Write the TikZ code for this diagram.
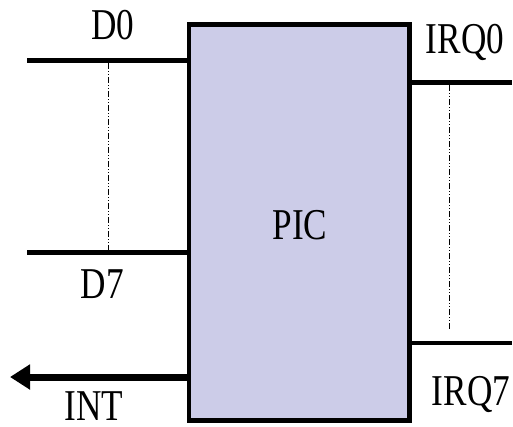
\documentclass[tikz,border=0pt]{standalone}
\usepackage{fontspec}
\setmainfont{Liberation Serif}
\usetikzlibrary{arrows.meta}
\definecolor{picfill}{RGB}{204,204,232}
\begin{document}
\begin{tikzpicture}[x=1pt,y=-1pt,
  lbl/.style={inner sep=0pt,anchor=base,font=\fontsize{44}{44}\selectfont},
  bus/.style={line width=4.5pt},
  dd/.style={line width=1pt,dash pattern=on 6pt off 2pt on 1pt off 2pt on 1pt off 2pt}]
\useasboundingbox (0,0) rectangle (513,426);
\node[draw,line width=4.5pt,fill=picfill,minimum width=220.5pt,minimum height=396pt,inner sep=0pt] (picbox) at (299.25,222.5) {};
\node[lbl] (pictxt) at (300,239) {\scalebox{0.8}[1]{PIC}};
% left data bus
\coordinate (d0l) at (27,60.5);
\coordinate (d0r) at (picbox.west |- d0l);
\coordinate (d7l) at (27,252.5);
\coordinate (d7r) at (picbox.west |- d7l);
\draw[bus] (d0l) -- (d0r);
\draw[bus] (d7l) -- (d7r);
\coordinate (dt) at (108,63);
\coordinate (db) at (108,250);
\draw[dd] (dt) -- (db);
\node[lbl] (d0) at (113,39) {\scalebox{0.8}[1]{D0}};
\node[lbl] (d7) at (102.5,298) {\scalebox{0.8}[1]{D7}};
% right IRQ lines
\coordinate (i0r) at (512,82.5);
\coordinate (i0l) at (picbox.east |- i0r);
\coordinate (i7r) at (512,343);
\coordinate (i7l) at (picbox.east |- i7r);
\draw[bus] (i0l) -- (i0r);
\draw[bus] (i7l) -- (i7r);
\coordinate (it) at (449,85);
\coordinate (ib) at (449,330);
\draw[dd] (it) -- (ib);
\node[lbl] (irq0) at (465,53) {\scalebox{0.8}[1]{IRQ0}};
\node[lbl] (irq7) at (471,405) {\scalebox{0.8}[1]{IRQ7}};
% INT
\coordinate (intp) at (0,377);
\coordinate (intr) at (picbox.west |- intp);
\coordinate (intl) at (10,377);
\draw[line width=7pt,-{Triangle[length=20pt,width=24pt]}] (intr) -- (intl);
\node[lbl] (int) at (94,420) {\scalebox{0.8}[1]{INT}};
\end{tikzpicture}
\end{document}
